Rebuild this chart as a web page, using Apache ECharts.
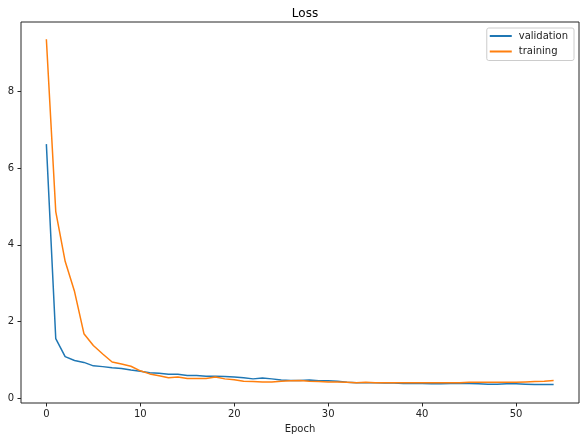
<!DOCTYPE html>
<html>
<head>
<meta charset="utf-8">
<title>Loss</title>
<script src="https://cdn.jsdelivr.net/npm/echarts@6/dist/echarts.min.js"></script>
<style>
  html, body { margin: 0; padding: 0; background: #fff; }
  #chart { width: 585px; height: 441px; }
</style>
</head>
<body>
<div id="chart"></div>
<script>
// loss values per epoch
const validation = [
  6.63, 1.55, 1.08, 0.98, 0.93, 0.84, 0.82, 0.79, 0.77, 0.73,
  0.70, 0.66, 0.65, 0.62, 0.62, 0.59, 0.59, 0.57, 0.57, 0.56,
  0.55, 0.53, 0.50, 0.52, 0.50, 0.47, 0.46, 0.46, 0.47, 0.45,
  0.45, 0.44, 0.41, 0.40, 0.40, 0.40, 0.39, 0.39, 0.38, 0.38,
  0.38, 0.37, 0.37, 0.38, 0.38, 0.38, 0.37, 0.36, 0.36, 0.37,
  0.37, 0.36, 0.35, 0.35, 0.35
]
const training = [
  9.37, 4.87, 3.57, 2.78, 1.68, 1.37, 1.15, 0.94, 0.89, 0.83,
  0.71, 0.63, 0.58, 0.53, 0.55, 0.51, 0.51, 0.51, 0.55, 0.50,
  0.48, 0.44, 0.43, 0.42, 0.42, 0.44, 0.45, 0.46, 0.44, 0.43,
  0.42, 0.42, 0.41, 0.40, 0.41, 0.40, 0.40, 0.40, 0.40, 0.40,
  0.40, 0.40, 0.40, 0.40, 0.40, 0.41, 0.41, 0.41, 0.41, 0.41,
  0.41, 0.42, 0.43, 0.44, 0.46
]
const xTicks = [0, 10, 20, 30, 40, 50]
const yTicks = [0, 2, 4, 6, 8]

const font = 'DejaVu Sans'
const ink = '#222'

const pairs = arr => arr.map((v, i) => [i, v])

const chart = echarts.init(document.getElementById('chart'))
chart.setOption({
  animation: false,
  title: {
    text: 'Loss',
    left: 300,
    textAlign: 'center',
    top: 3,
    textStyle: { fontFamily: font, fontSize: 12, fontWeight: 'normal', color: '#000' }
  },
  legend: {
    orient: 'vertical',
    right: 11,
    top: 28,
    padding: [2, 6, 3, 3],
    itemGap: 3.5,
    itemWidth: 22,
    itemHeight: 2,
    icon: 'rect',
    borderColor: '#ccc',
    borderWidth: 1,
    borderRadius: 2,
    backgroundColor: 'rgba(255,255,255,0.8)',
    textStyle: { fontFamily: font, fontSize: 10, color: ink, lineHeight: 12, padding: [0, 0, 0, 2] },
    data: ['validation', 'training']
  },
  grid: {
    left: 21,
    right: 6,
    top: 22,
    bottom: 38,
    show: true,
    borderColor: '#262626',
    borderWidth: 1
  },
  xAxis: {
    type: 'value',
    min: -2.7,
    max: 56.7,
    name: 'Epoch',
    nameLocation: 'middle',
    nameGap: 21,
    nameTextStyle: { fontFamily: font, fontSize: 10, color: ink },
    axisLine: { show: false, onZero: false },
    axisTick: { show: true, length: 3.5, customValues: xTicks, lineStyle: { color: '#262626' } },
    axisLabel: { customValues: xTicks, margin: 6, fontFamily: font, fontSize: 10, color: ink },
    splitLine: { show: false }
  },
  yAxis: {
    type: 'value',
    min: -0.13,
    max: 9.82,
    axisLine: { show: false, onZero: false },
    axisTick: { show: true, length: 3.5, customValues: yTicks, lineStyle: { color: '#262626' } },
    axisLabel: { customValues: yTicks, margin: 7, fontFamily: font, fontSize: 10, color: ink },
    splitLine: { show: false }
  },
  series: [
    {
      name: 'validation',
      type: 'line',
      data: pairs(validation),
      showSymbol: false,
      color: '#1f77b4',
      lineStyle: { width: 1.5 }
    },
    {
      name: 'training',
      type: 'line',
      data: pairs(training),
      showSymbol: false,
      color: '#ff7f0e',
      lineStyle: { width: 1.5 }
    }
  ]
})
</script>
</body>
</html>
